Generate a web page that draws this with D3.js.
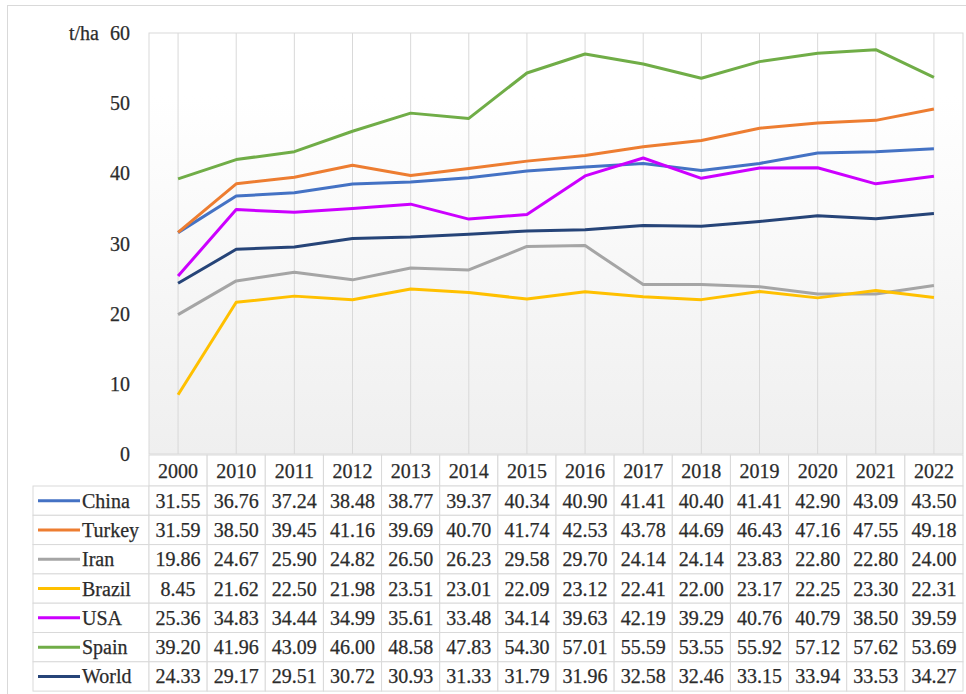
<!DOCTYPE html>
<html>
<head>
<meta charset="utf-8">
<script src="https://cdn.jsdelivr.net/npm/d3@7"></script>
<style>
  body { margin: 0; background: #fff; }
</style>
</head>
<body>
<svg id="chart"></svg>
<script>
// data (t/ha)
var years = ["2000","2010","2011","2012","2013","2014","2015","2016","2017","2018","2019","2020","2021","2022"];
var seriesNames = ["China","Turkey","Iran","Brazil","USA","Spain","World"];
var seriesColors = ["#4472C4","#ED7D31","#A5A5A5","#FFC000","#CC00FF","#70AD47","#264478"];
var china  = [31.55,36.76,37.24,38.48,38.77,39.37,40.34,40.90,41.41,40.40,41.41,42.90,43.09,43.50];
var turkey = [31.59,38.50,39.45,41.16,39.69,40.70,41.74,42.53,43.78,44.69,46.43,47.16,47.55,49.18];
var iran   = [19.86,24.67,25.90,24.82,26.50,26.23,29.58,29.70,24.14,24.14,23.83,22.80,22.80,24.00];
var brazil = [8.45,21.62,22.50,21.98,23.51,23.01,22.09,23.12,22.41,22.00,23.17,22.25,23.30,22.31];
var usa    = [25.36,34.83,34.44,34.99,35.61,33.48,34.14,39.63,42.19,39.29,40.76,40.79,38.50,39.59];
var spain  = [39.20,41.96,43.09,46.00,48.58,47.83,54.30,57.01,55.59,53.55,55.92,57.12,57.62,53.69];
var world  = [24.33,29.17,29.51,30.72,30.93,31.33,31.79,31.96,32.58,32.46,33.15,33.94,33.53,34.27];
var yTicks = [0,10,20,30,40,50,60];

var allValues = [china, turkey, iran, brazil, usa, spain, world];
var series = seriesNames.map(function(n, i){
  return { name: n, color: seriesColors[i], values: allValues[i] };
});

var svgWidth = 966, svgHeight = 694;
var plotLeft = 149, plotRight = 963, plotTop = 33, plotBottom = 454;
var headerH = 31, rowH = 29.3, legendLeft = 33;
var font = "Liberation Serif";
var textColor = "#2b2b2b";

var svg = d3.select('#chart')
  .attr('width', svgWidth)
  .attr('height', svgHeight);

// outer chart frame
svg.append('rect')
  .attr('x', 7.5).attr('y', 5.5)
  .attr('width', 980).attr('height', 720)
  .attr('fill', '#fff')
  .attr('stroke', '#d9d9d9');

var x = d3.scaleBand().domain(years).range([plotLeft, plotRight]);
var bw = x.bandwidth();
function cx(d){ return x(d) + bw / 2; }
var y = d3.scaleLinear().domain([0, 60]).range([plotBottom, plotTop]);

// plot background gradient
var grad = svg.append('defs').append('linearGradient')
  .attr('id', 'bg').attr('x1', 0).attr('y1', 0).attr('x2', 0).attr('y2', 1);
grad.append('stop').attr('offset', '0%').attr('stop-color', '#ffffff');
grad.append('stop').attr('offset', '15%').attr('stop-color', '#ffffff');
grad.append('stop').attr('offset', '100%').attr('stop-color', '#efefef');

svg.append('rect')
  .attr('x', plotLeft).attr('y', plotTop)
  .attr('width', plotRight - plotLeft).attr('height', plotBottom - plotTop)
  .attr('fill', 'url(#bg)')
  .attr('stroke', '#d9d9d9');

// vertical gridlines at each category
svg.selectAll('.grid')
  .data(years)
  .enter()
  .append('line')
  .attr('class', 'grid')
  .attr('x1', cx).attr('x2', cx)
  .attr('y1', plotTop).attr('y2', plotBottom)
  .attr('stroke', '#d9d9d9')
  .attr('stroke-width', 1);

function label(sel){
  return sel.attr('font-family', font)
    .attr('font-size', 20)
    .attr('fill', textColor)
    .attr('stroke', textColor)
    .attr('stroke-width', 0.25);
}

// y tick labels
label(svg.selectAll('.ytick')
  .data(yTicks)
  .enter()
  .append('text')
  .attr('class', 'ytick')
  .attr('x', 130)
  .attr('y', function(d){ return y(d); })
  .attr('dy', '0.35em')
  .attr('text-anchor', 'end')
  .text(function(d){ return d; }));

label(svg.append('text')
  .attr('x', 99).attr('y', y(60))
  .attr('dy', '0.35em')
  .attr('text-anchor', 'end')
  .text('t/ha'));

// lines
var line = d3.line()
  .x(function(d, i){ return cx(years[i]); })
  .y(function(d){ return y(d); });

svg.selectAll('.series')
  .data(series)
  .enter()
  .append('path')
  .attr('class', 'series')
  .attr('d', function(d){ return line(d.values); })
  .attr('fill', 'none')
  .attr('stroke', function(d){ return d.color; })
  .attr('stroke-width', 3)
  .attr('stroke-linejoin', 'round');

// data table
var table = svg.append('g');
var tableTop = plotBottom + 1;

// header row
table.selectAll('.hcell')
  .data(years)
  .enter()
  .append('rect')
  .attr('x', function(d){ return x(d); })
  .attr('y', tableTop)
  .attr('width', bw).attr('height', headerH)
  .attr('fill', '#fff')
  .attr('stroke', '#d9d9d9');

label(table.selectAll('.htext')
  .data(years)
  .enter()
  .append('text')
  .attr('x', cx)
  .attr('y', tableTop + headerH / 2)
  .attr('dy', '0.35em')
  .attr('text-anchor', 'middle')
  .text(function(d){ return d; }));

var rows = table.selectAll('.row')
  .data(series)
  .enter()
  .append('g')
  .attr('class', 'row')
  .attr('transform', function(d, i){
    return 'translate(0,' + (tableTop + headerH + i * rowH) + ')';
  });

rows.append('rect')
  .attr('x', legendLeft).attr('y', 0)
  .attr('width', plotLeft - legendLeft).attr('height', rowH)
  .attr('fill', '#fff')
  .attr('stroke', '#d9d9d9');

rows.append('line')
  .attr('x1', 38).attr('x2', 80)
  .attr('y1', rowH / 2).attr('y2', rowH / 2)
  .attr('stroke', function(d){ return d.color; })
  .attr('stroke-width', 3);

label(rows.append('text')
  .attr('x', 82).attr('y', rowH / 2)
  .attr('dy', '0.35em')
  .text(function(d){ return d.name; }));

rows.selectAll('.cell')
  .data(function(d){ return d.values; })
  .enter()
  .append('rect')
  .attr('x', function(d, i){ return x(years[i]); })
  .attr('y', 0)
  .attr('width', bw).attr('height', rowH)
  .attr('fill', '#fff')
  .attr('stroke', '#d9d9d9');

label(rows.selectAll('.val')
  .data(function(d){ return d.values; })
  .enter()
  .append('text')
  .attr('x', function(d, i){ return cx(years[i]); })
  .attr('y', rowH / 2)
  .attr('dy', '0.35em')
  .attr('text-anchor', 'middle')
  .text(function(d){ return d.toFixed(2); }));
</script>
</body>
</html>
